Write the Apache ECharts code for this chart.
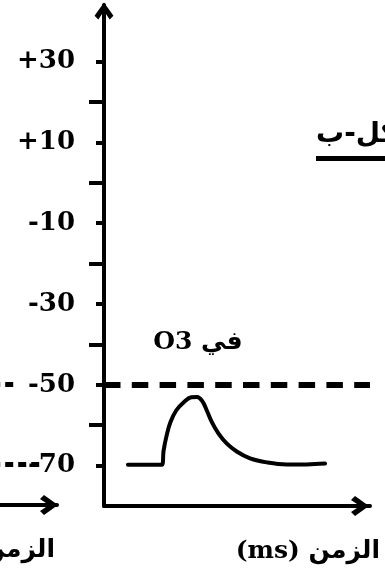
<!DOCTYPE html>
<html>
<head>
<meta charset="utf-8">
<script src="https://cdn.jsdelivr.net/npm/echarts@6/dist/echarts.min.js"></script>
<style>
  html, body { margin: 0; padding: 0; background: #fff; }
  #chart { width: 385px; height: 573px; }
</style>
</head>
<body>
<div id="chart"></div>
<script>
// Membrane potential scale (mV)
const yMin = -80;
const yMax = 44;
const labelledTicks = [30, 10, -10, -30, -50, -70];
const minorTicks = [20, 0, -20, -40, -60];
const thresholdLevel = -50;
const restingLevel = -70;

// Recorded potential at O3 against time
const timeMs = [9.0, 21.8, 22.4, 23.6, 25.0, 27.2, 30.0, 32.8, 35.0, 36.9, 38.6, 40.6, 43.0, 46.1, 49.9, 54.9, 61.2, 68.7, 76.2, 83.1];
const potentialMv = [-69.8, -69.8, -66.3, -62.4, -59.2, -56.3, -54.3, -53.1, -53.0, -54.0, -56.3, -59.3, -62.0, -64.5, -66.5, -68.2, -69.2, -69.7, -69.7, -69.5];

// Neighbouring panel (only its right edge is in view)
const neighbourThresholdEnd = 88.5;
const neighbourRestingEnd = 95.5;
const neighbourStart = 60;

// Texts
const figureTitle = 'الشكل-ب';
const timeAxisName = '(ms) الزمن';
const recordingLabel = 'O3 في';
const recordingLabelAt = [35.3, -39.6];

const latinFont = 'DejaVu Serif';
const arabicFont = 'DejaVu Sans';
const arrowPath = 'path://M10,0 L20,14 L16,18 L10,9 L4,18 L0,14 Z';

const chart = echarts.init(document.getElementById('chart'), null, { renderer: 'canvas' });

const axisLineStyle = { color: '#000', width: 4 };
const nameStyle = {
  color: '#000', fontSize: 25, fontWeight: 'bold',
  fontFamily: latinFont + ', ' + arabicFont,
  align: 'right', verticalAlign: 'top', padding: [33, 0, 0, 0]
};

chart.setOption({
  animation: false,
  backgroundColor: '#fff',
  title: {
    text: figureTitle,
    left: 316, top: 121,
    padding: 0,
    textStyle: { color: '#000', fontSize: 28, fontWeight: 'bold', fontFamily: arabicFont }
  },
  graphic: [
    { type: 'rect', shape: { x: 316, y: 156, width: 80, height: 5 }, style: { fill: '#000' }, silent: true }
  ],
  grid: [
    { left: 104, right: 15, top: 5, bottom: 67, outerBoundsMode: 'none', containLabel: false },
    { left: -300, right: 328, top: 5, bottom: 68, outerBoundsMode: 'none', containLabel: false }
  ],
  xAxis: [
    {
      gridIndex: 0, type: 'value', min: 0, max: 100,
      axisLine: { show: true, onZero: false, lineStyle: axisLineStyle,
        symbol: ['none', arrowPath], symbolSize: [20, 18], symbolOffset: [0, -10] },
      axisTick: { show: false }, axisLabel: { show: false }, splitLine: { show: false },
      name: timeAxisName, nameLocation: 'end', nameGap: 10, nameTextStyle: nameStyle
    },
    {
      gridIndex: 1, type: 'value', min: 0, max: 100,
      axisLine: { show: true, onZero: false, lineStyle: axisLineStyle,
        symbol: ['none', arrowPath], symbolSize: [20, 18], symbolOffset: [0, -8] },
      axisTick: { show: false }, axisLabel: { show: false }, splitLine: { show: false },
      name: timeAxisName, nameLocation: 'end', nameGap: -2, nameTextStyle: nameStyle
    }
  ],
  yAxis: [
    {
      gridIndex: 0, type: 'value', min: yMin, max: yMax, position: 'left',
      axisLine: { show: true, onZero: false, lineStyle: axisLineStyle,
        symbol: ['none', arrowPath], symbolSize: [20, 17], symbolOffset: [0, -6] },
      axisTick: { show: true, customValues: labelledTicks, length: 8, lineStyle: { color: '#000', width: 4 } },
      axisLabel: {
        show: true, customValues: labelledTicks, margin: 29,
        color: '#000', fontSize: 26, fontWeight: 'bold', fontFamily: latinFont,
        formatter: v => (v > 0 ? '+' + v : String(v))
      },
      splitLine: { show: false }
    },
    {
      gridIndex: 0, type: 'value', min: yMin, max: yMax, position: 'left',
      axisLine: { show: false, onZero: false },
      axisTick: { show: true, customValues: minorTicks, length: 15, lineStyle: { color: '#000', width: 4 } },
      axisLabel: { show: false }, splitLine: { show: false }
    },
    {
      gridIndex: 1, type: 'value', min: yMin, max: yMax,
      axisLine: { show: false }, axisTick: { show: false }, axisLabel: { show: false }, splitLine: { show: false }
    }
  ],
  series: [
    {
      type: 'line', xAxisIndex: 0, yAxisIndex: 0,
      data: timeMs.map((t, i) => [t, potentialMv[i]]),
      smooth: 0.4, symbol: 'none',
      lineStyle: { color: '#000', width: 4, join: 'round', cap: 'round' },
      markLine: {
        silent: true, symbol: 'none', label: { show: false },
        lineStyle: { color: '#000', width: 6, type: [16.5, 11.3] },
        data: [{ yAxis: thresholdLevel }]
      },
      markPoint: {
        silent: true, symbol: 'circle', symbolSize: 1, itemStyle: { color: 'rgba(0,0,0,0)' },
        label: { show: true, position: 'inside', formatter: recordingLabel,
          color: '#000', fontSize: 25, fontWeight: 'bold', fontFamily: latinFont + ', ' + arabicFont },
        data: [{ coord: recordingLabelAt }]
      }
    },
    {
      type: 'line', xAxisIndex: 1, yAxisIndex: 2, data: [], symbol: 'none',
      markLine: {
        silent: true, symbol: 'none', label: { show: false },
        lineStyle: { color: '#000', width: 5, type: [8, 5] },
        data: [
          [{ coord: [neighbourStart, thresholdLevel] }, { coord: [neighbourThresholdEnd, thresholdLevel] }],
          [{ coord: [neighbourStart, restingLevel] }, { coord: [neighbourRestingEnd, restingLevel] }]
        ]
      }
    }
  ]
});
</script>
</body>
</html>
